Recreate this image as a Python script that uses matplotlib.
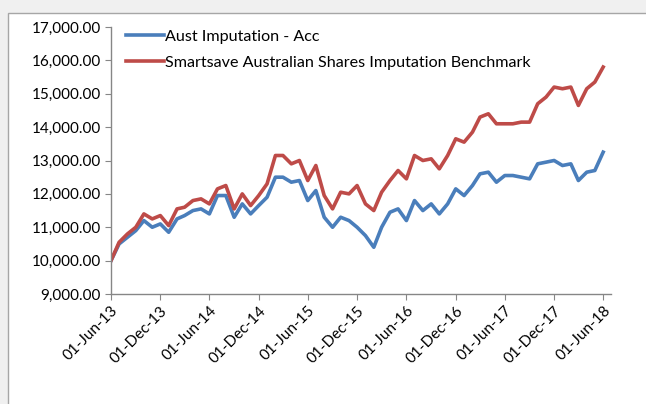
import datetime as dt

import matplotlib

matplotlib.use("Agg")
import matplotlib.dates as mdates
import matplotlib.pyplot as plt
import matplotlib.ticker as mticker
from matplotlib.patches import Rectangle

# Monthly growth of $10,000, Jun-13 to Jun-18
start = dt.date(2013, 6, 1)
months = [dt.date(start.year + (start.month - 1 + i) // 12, (start.month - 1 + i) % 12 + 1, 1) for i in range(61)]

fund = [
    10000, 10500, 10700, 10900, 11200, 11000, 11100, 10850, 11250, 11350,
    11500, 11550, 11400, 11950, 11950, 11300, 11700, 11400, 11650, 11900,
    12500, 12500, 12350, 12400, 11800, 12100, 11300, 11000, 11300, 11200,
    11000, 10750, 10400, 11000, 11450, 11550, 11200, 11800, 11500, 11700,
    11400, 11700, 12150, 11950, 12250, 12600, 12650, 12350, 12550, 12550,
    12500, 12450, 12900, 12950, 13000, 12850, 12900, 12400, 12650, 12700,
    13250,
]
benchmark = [
    10000, 10550, 10800, 11000, 11400, 11250, 11350, 11050, 11550, 11600,
    11800, 11850, 11700, 12150, 12250, 11550, 12000, 11650, 11950, 12300,
    13150, 13150, 12900, 13000, 12400, 12850, 11950, 11550, 12050, 12000,
    12250, 11700, 11500, 12050, 12400, 12700, 12450, 13150, 13000, 13050,
    12750, 13150, 13650, 13550, 13850, 14300, 14400, 14100, 14100, 14100,
    14150, 14150, 14700, 14900, 15200, 15150, 15200, 14650, 15150, 15350,
    15800,
]
series_names = ["Aust Imputation - Acc", "Smartsave Australian Shares Imputation Benchmark"]
series_colors = ["#4a7ebb", "#be4b48"]

plt.rcParams["font.family"] = ["Lato", "DejaVu Sans"]

W, H = 646, 404
fig = plt.figure(figsize=(W / 100, H / 100), dpi=100)
fig.patch.set_facecolor("#f0f0f0")
fig.patches.append(
    Rectangle((8 / W, -0.01), 1.0, 1 - 13 / H + 0.01, transform=fig.transFigure,
              facecolor="white", edgecolor="#a6a6a6", linewidth=1.0, zorder=-10)
)

ax = fig.add_axes([111 / W, 1 - 294 / H, (611 - 111) / W, (294 - 27) / H])
ax.set_facecolor("none")

for values, name, color in zip([fund, benchmark], series_names, series_colors):
    ax.plot(months, values, color=color, linewidth=2.6, label=name, solid_joinstyle="round")

ax.set_ylim(9000, 17000)
ax.set_yticks(range(9000, 17001, 1000))
ax.yaxis.set_major_formatter(mticker.StrMethodFormatter("{x:,.2f}"))

ax.set_xlim(dt.date(2013, 6, 1), dt.date(2018, 6, 30))
tick_dates = [m for i, m in enumerate(months) if i % 6 == 0]
ax.set_xticks(tick_dates)
ax.xaxis.set_major_formatter(mdates.DateFormatter("%d-%b-%y"))
plt.setp(ax.get_xticklabels(), rotation=45, ha="right", rotation_mode="anchor")

for side in ["top", "right"]:
    ax.spines[side].set_visible(False)
for side in ["left", "bottom"]:
    ax.spines[side].set_color("#868686")
    ax.spines[side].set_linewidth(1.0)
ax.tick_params(axis="both", colors="#868686", labelcolor="black", labelsize=11, length=4, direction="out")
ax.tick_params(axis="x", pad=3)

leg = ax.legend(loc="upper left", bbox_to_anchor=(120 / W, 1 - 23 / H), bbox_transform=fig.transFigure,
                frameon=False, fontsize=11.6, handlelength=2.3, handletextpad=0.1, labelspacing=0.75,
                borderaxespad=0)

fig.savefig("out.png", dpi=100, facecolor=fig.get_facecolor())
